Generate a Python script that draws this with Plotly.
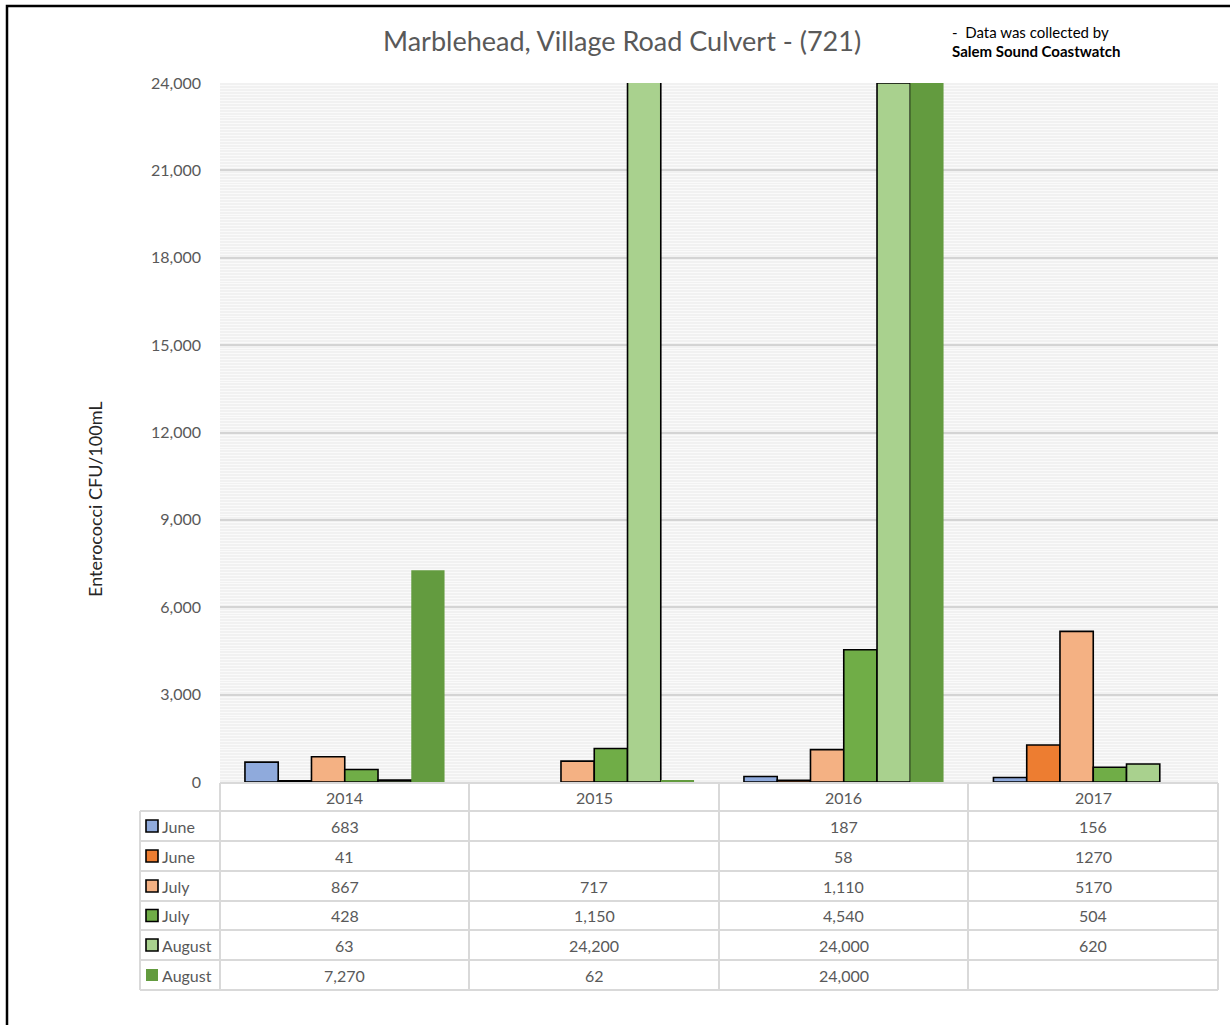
import plotly.graph_objects as go

years = ["2014", "2015", "2016", "2017"]
series_names = ["June", "June", "July", "July", "August", "August"]
june_a = [683, None, 187, 156]
june_b = [41, None, 58, 1270]
july_a = [867, 717, 1110, 5170]
july_b = [428, 1150, 4540, 504]
aug_a = [63, 24200, 24000, 620]
aug_b = [7270, 62, 24000, None]
series_values = [june_a, june_b, july_a, july_b, aug_a, aug_b]
use_commas = [True, True, True, False]
y_ticks = [0, 3000, 6000, 9000, 12000, 15000, 18000, 21000, 24000]

colors = ["#8FAADC", "#ED7D31", "#F4B183", "#70AD47", "#A9D18E", "#639B3F"]
outlined = [True, True, True, True, True, False]

W, H = 1230, 1025
L, R, T, B = 220, 1218, 83, 782  # plot area pixels


def px(x):
    return (x - L) / (R - L)


def py(y):
    return (B - y) / (B - T)


fig = go.Figure()
for name, vals, c, o in zip(series_names, series_values, colors, outlined):
    fig.add_trace(go.Bar(
        x=years, y=vals, name=name,
        marker=dict(color=c, line=dict(color="black" if o else c, width=1.6 if o else 0)),
        showlegend=False,
    ))

font = "Lato, 'Open Sans', sans-serif"
grey = "#595959"
fig.update_layout(
    width=W, height=H, autosize=False,
    margin=dict(l=L, r=W - R, t=T, b=H - B),
    paper_bgcolor="white",
    plot_bgcolor="#f1f1f1",
    barmode="group", bargap=0.2, bargroupgap=0,
    font=dict(family=font, color=grey, size=15),
    xaxis=dict(type="category", categoryorder="array", categoryarray=years,
               range=[-0.5, len(years) - 0.5],
               showticklabels=False, showgrid=False, zeroline=False, showline=False, ticks=""),
    yaxis=dict(range=[0, 24000], tickvals=y_ticks, tickformat=",d",
               showgrid=True, gridcolor="#d4d4d4", gridwidth=1.5,
               minor=dict(dtick=100, showgrid=True, gridcolor="#fafafa", gridwidth=1),
               zeroline=False, showline=False, ticks="", ticklabelstandoff=18,
               tickfont=dict(size=16, color=grey, family=font)),
)

shapes = []
ann = []
# outer chart border (left and top visible)
shapes.append(dict(type="rect", xref="paper", yref="paper", x0=px(7), x1=px(1300), y0=py(1100), y1=py(6),
                   line=dict(color="black", width=2.5), fillcolor="rgba(0,0,0,0)", layer="above"))

# data table grid
grid_c = "#d9d9d9"
row_edges = [783, 811, 841, 871, 901, 930, 960, 990]
col_edges = [220, 469, 719, 968, 1218]
for i, ye in enumerate(row_edges):
    x0 = 220 if i == 0 else 140
    shapes.append(dict(type="line", xref="paper", yref="paper", x0=px(x0), x1=px(1218), y0=py(ye), y1=py(ye),
                       line=dict(color=grid_c, width=2)))
for xe in col_edges:
    shapes.append(dict(type="line", xref="paper", yref="paper", x0=px(xe), x1=px(xe), y0=py(783), y1=py(990),
                       line=dict(color=grid_c, width=2)))
shapes.append(dict(type="line", xref="paper", yref="paper", x0=px(140), x1=px(140), y0=py(811), y1=py(990),
                   line=dict(color=grid_c, width=2)))

# header years (category index positions on the x axis)
for k, yr in enumerate(years):
    ann.append(dict(x=k, xref="x", y=py(797), yref="paper", text=yr, showarrow=False,
                    font=dict(size=16, color=grey, family=font), xanchor="center", yanchor="middle"))

# rows
for i, (name, vals, c, o) in enumerate(zip(series_names, series_values, colors, outlined)):
    yc = (row_edges[i + 1] + row_edges[i + 2]) / 2
    shapes.append(dict(type="rect", xref="paper", yref="paper", x0=px(146), x1=px(158), y0=py(yc + 6), y1=py(yc - 6),
                       fillcolor=c, line=dict(color="black" if o else c, width=1.6 if o else 0)))
    ann.append(dict(x=px(160), xref="paper", y=py(yc), yref="paper", text=name, showarrow=False,
                    font=dict(size=16, color=grey, family=font), xanchor="left", yanchor="middle"))
    for k, (v, cm) in enumerate(zip(vals, use_commas)):
        if v is None:
            continue
        txt = f"{v:,}" if cm else str(v)
        ann.append(dict(x=k, xref="x", y=py(yc), yref="paper", text=txt, showarrow=False,
                        font=dict(size=16, color=grey, family=font), xanchor="center", yanchor="middle"))

# title
ann.append(dict(x=px(622), xref="paper", y=py(41), yref="paper", text="Marblehead, Village Road Culvert - (721)",
                showarrow=False, font=dict(size=27, color=grey, family=font), xanchor="center", yanchor="middle"))
# y axis title
ann.append(dict(x=px(95), xref="paper", y=py(499), yref="paper", text="Enterococci CFU/100mL", textangle=-90,
                showarrow=False, font=dict(size=18, color="#262626", family=font), xanchor="center", yanchor="middle"))
# note
ann.append(dict(x=px(950), xref="paper", y=py(32), yref="paper", text="-  Data was collected by",
                showarrow=False, font=dict(size=15, color="#000000", family=font), xanchor="left", yanchor="middle"))
ann.append(dict(x=px(950), xref="paper", y=py(51), yref="paper", text="<b>Salem Sound Coastwatch</b>",
                showarrow=False, font=dict(size=15, color="#000000", family=font), xanchor="left", yanchor="middle"))

fig.update_layout(shapes=shapes, annotations=ann)
fig.write_html("out.html")
